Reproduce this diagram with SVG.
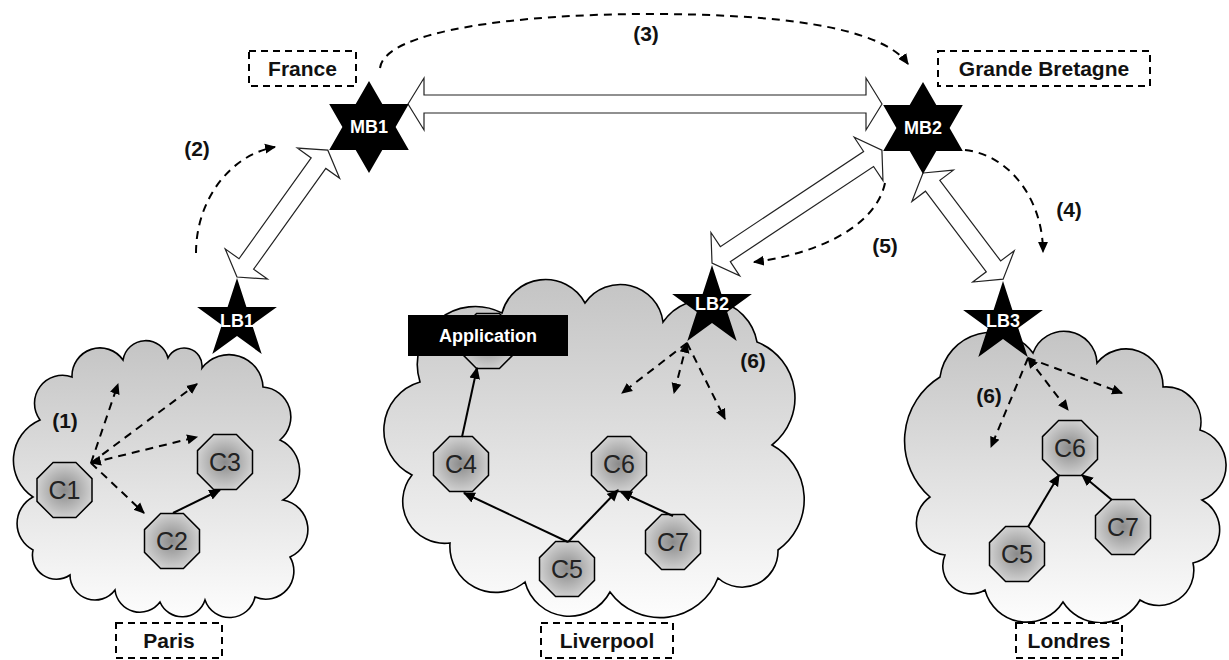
<svg xmlns="http://www.w3.org/2000/svg" xmlns:xlink="http://www.w3.org/1999/xlink" width="1229" height="660" viewBox="0 0 1229 660">
<style>
.cloud{stroke:#000;stroke-width:1.6;fill:url(#cg)}
.oct{stroke:#000;stroke-width:1.5;fill:url(#og)}
.ct{font-family:"Liberation Sans",Arial,sans-serif;font-size:25px;fill:#222;text-anchor:middle}
.lbl{font-family:"Liberation Sans",Arial,sans-serif;font-size:21px;font-weight:bold;fill:#111;text-anchor:middle}
.wt{font-family:"Liberation Sans",Arial,sans-serif;font-size:18px;font-weight:bold;fill:#fff;text-anchor:middle}
.box{fill:#fff;stroke:#000;stroke-width:2;stroke-dasharray:7,5}
.dash{fill:none;stroke:#000;stroke-width:2;stroke-dasharray:8,6}
.solid{fill:none;stroke:#000;stroke-width:2}
.hollow{fill:#fff;stroke:#222;stroke-width:1.2}
</style>
<defs>
<linearGradient id="cg" x1="0" y1="0" x2="0" y2="1">
<stop offset="0" stop-color="#c4c4c4"/>
<stop offset="1" stop-color="#fdfdfd"/>
</linearGradient>
<radialGradient id="og" cx="0.5" cy="0.5" r="0.55">
<stop offset="0" stop-color="#8a8a8a"/>
<stop offset="1" stop-color="#d6d6d6"/>
</radialGradient>
<polygon id="oct" points="-11.4,-27.5 11.4,-27.5 27.5,-11.4 27.5,11.4 11.4,27.5 -11.4,27.5 -27.5,11.4 -27.5,-11.4"/>
<polygon id="hex" points="0,-46 13.3,-23 39.8,-23 26.6,0 39.8,23 13.3,23 0,46 -13.3,23 -39.8,23 -26.6,0 -39.8,-23 -13.3,-23"/>
<polygon id="star5" points="0,-42 9.4,-12.9 39.9,-13 15.2,4.9 24.7,34 0,16 -24.7,34 -15.2,4.9 -39.9,-13 -9.4,-12.9"/>
<marker id="ah" viewBox="0 0 10 10" refX="9" refY="5" markerUnits="userSpaceOnUse" markerWidth="11" markerHeight="11" orient="auto-start-reverse">
<path d="M0,0.5 L10,5 L0,9.5 z" fill="#000"/>
</marker>
<marker id="sh" viewBox="0 0 10 10" refX="9" refY="5" markerUnits="userSpaceOnUse" markerWidth="12" markerHeight="12" orient="auto">
<path d="M0,0.5 L10,5 L0,9.5 z" fill="#000"/>
</marker>
</defs>
<rect width="1229" height="660" fill="#fff"/>

<g id="cloud-paris">
<path class="cloud" d="M33,497 A44,44 0 0 1 40,420 A28,28 0 0 1 72,377 A28,28 0 0 1 123,360 A23,23 0 0 1 168,358 A18,18 0 0 1 202,368 A34,34 0 0 1 263,387 A30,30 0 0 1 280,440 A34,34 0 0 1 283,500 A30,30 0 0 1 290,557 A28,28 0 0 1 255,597 A26,26 0 0 1 205,600 A24,24 0 0 1 160,602 A25,25 0 0 1 115,590 A25,25 0 0 1 70,575 A24,24 0 0 1 33,550 A30,30 0 0 1 33,497 Z"/>
</g>
<g id="cloud-liverpool">
<path class="cloud" d="M412,475 A50,50 0 0 1 420,382 A58,58 0 0 1 502,313 A45,45 0 0 1 585,303 A43,43 0 0 1 663,322 A52,52 0 0 1 757,342 A60,60 0 0 1 772,445 A62,62 0 0 1 778,550 A36,36 0 0 1 718,578 A62,62 0 0 1 610,592 A46,46 0 0 1 525,582 A46,46 0 0 1 450,543 A42,42 0 0 1 412,475 Z"/>
</g>
<g id="cloud-londres">
<path class="cloud" d="M930,497 A75,75 0 0 1 940,377 A52,52 0 0 1 1033,353 A33,33 0 0 1 1097,363 A37,37 0 0 1 1163,387 A35,35 0 0 1 1200,430 A37,37 0 0 1 1202,500 A34,34 0 0 1 1193,563 A35,35 0 0 1 1140,600 A45,45 0 0 1 1063,602 A43,43 0 0 1 985,590 A28,28 0 0 1 945,555 A32,32 0 0 1 930,497 Z"/>
</g>

<g id="label-france"><rect class="box" x="249" y="51" width="107" height="35"/><text class="lbl" x="302.5" y="76">France</text></g>
<g id="label-gb"><rect class="box" x="938" y="51" width="212" height="35"/><text class="lbl" x="1044" y="76">Grande Bretagne</text></g>
<g id="label-paris"><rect class="box" x="116" y="623" width="106" height="35"/><text class="lbl" x="169" y="648">Paris</text></g>
<g id="label-liverpool"><rect class="box" x="541" y="623" width="132" height="35"/><text class="lbl" x="607" y="648">Liverpool</text></g>
<g id="label-londres"><rect class="box" x="1016" y="623" width="106" height="35"/><text class="lbl" x="1069" y="648">Londres</text></g>

<g id="connectors">
<polygon class="hollow" transform="translate(408,104)" points="0,0 16,-26 16,-9 458,-9 458,-26 474,0 458,26 458,9 16,9 16,26"/>
<polygon class="hollow" transform="translate(237,277) rotate(-54.4)" points="0,0 16,-26 16,-9 140,-9 140,-26 156,0 140,26 140,9 16,9 16,26"/>
<polygon class="hollow" transform="translate(712,263) rotate(-33.6)" points="0,0 16,-26 16,-9 188,-9 188,-26 204,0 188,26 188,9 16,9 16,26"/>
<polygon class="hollow" transform="translate(923,173) rotate(52.96)" points="0,0 16,-26 16,-9 117,-9 117,-26 133,0 117,26 117,9 16,9 16,26"/>

<path class="dash" marker-end="url(#ah)" d="M196,253 C196,200 230,155 275,147"/>
<path class="dash" marker-end="url(#ah)" d="M380,68 C385,30 520,14 650,14 C770,14 880,25 908,64"/>
<path class="dash" marker-end="url(#ah)" d="M965,150 C1010,155 1043,200 1043,252"/>
<path class="dash" marker-end="url(#ah)" d="M885,183 C875,230 810,255 754,262"/>

<path class="dash" marker-end="url(#ah)" d="M91,463 L118,384"/>
<path class="dash" marker-end="url(#ah)" d="M91,463 L197,384"/>
<path class="dash" marker-end="url(#ah)" marker-start="url(#ah)" d="M91,463 L197,437"/>
<path class="dash" marker-end="url(#ah)" d="M91,463 L144,513"/>

<path class="dash" marker-end="url(#ah)" d="M687,343 L622,393"/>
<path class="dash" marker-end="url(#ah)" marker-start="url(#ah)" d="M687,343 L674,393"/>
<path class="dash" marker-end="url(#ah)" d="M687,343 L725,419"/>

<path class="dash" marker-end="url(#ah)" d="M1028,358 L991,447"/>
<path class="dash" marker-end="url(#ah)" marker-start="url(#ah)" d="M1028,358 L1068,410"/>
<path class="dash" marker-end="url(#ah)" d="M1028,358 L1122,393"/>
</g>

<g id="node-app-hidden"><use href="#oct" class="oct" x="488" y="341"/></g>
<g id="node-application"><rect x="408" y="315" width="160" height="41" fill="#000"/><text class="wt" x="488" y="342">Application</text></g>

<g id="paris-C1"><use href="#oct" class="oct" x="64.5" y="490"/><text class="ct" x="64.5" y="499">C1</text></g>
<g id="paris-C2"><use href="#oct" class="oct" x="172" y="541"/><text class="ct" x="172" y="550">C2</text></g>
<g id="paris-C3"><use href="#oct" class="oct" x="225" y="462"/><text class="ct" x="225" y="471">C3</text></g>

<g id="liv-C4"><use href="#oct" class="oct" x="461" y="464"/><text class="ct" x="461" y="473">C4</text></g>
<g id="liv-C6"><use href="#oct" class="oct" x="619" y="464"/><text class="ct" x="619" y="473">C6</text></g>
<g id="liv-C5"><use href="#oct" class="oct" x="567" y="569"/><text class="ct" x="567" y="578">C5</text></g>
<g id="liv-C7"><use href="#oct" class="oct" x="673" y="542"/><text class="ct" x="673" y="551">C7</text></g>

<g id="lon-C6"><use href="#oct" class="oct" x="1070" y="448"/><text class="ct" x="1070" y="457">C6</text></g>
<g id="lon-C5"><use href="#oct" class="oct" x="1017" y="554"/><text class="ct" x="1017" y="563">C5</text></g>
<g id="lon-C7"><use href="#oct" class="oct" x="1123" y="527"/><text class="ct" x="1123" y="536">C7</text></g>

<g id="solid-arrows">
<path class="solid" marker-end="url(#sh)" d="M173,513 L220,490"/>
<path class="solid" marker-end="url(#sh)" d="M462,437 L477,368"/>
<path class="solid" marker-end="url(#sh)" d="M568,542 L464,493"/>
<path class="solid" marker-end="url(#sh)" d="M568,542 L618,490"/>
<path class="solid" marker-end="url(#sh)" d="M673,516 L621,492"/>
<path class="solid" marker-end="url(#sh)" d="M1028,527 L1059,475"/>
<path class="solid" marker-end="url(#sh)" d="M1112,500 L1082,475"/>
</g>

<g id="node-MB1"><use href="#hex" x="369" y="127" fill="#000"/><text class="wt" x="369" y="133">MB1</text></g>
<g id="node-MB2"><use href="#hex" x="923" y="128" fill="#000"/><text class="wt" x="923" y="134">MB2</text></g>
<g id="node-LB1"><use href="#star5" x="237" y="320" fill="#000"/><text class="wt" x="237" y="327">LB1</text></g>
<g id="node-LB2"><use href="#star5" x="712" y="307" fill="#000"/><text class="wt" x="712" y="310">LB2</text></g>
<g id="node-LB3"><use href="#star5" x="1003" y="323" fill="#000"/><text class="wt" x="1003" y="327">LB3</text></g>

<g id="step-labels">
<text class="lbl" x="65" y="428">(1)</text>
<text class="lbl" x="197" y="156">(2)</text>
<text class="lbl" x="646" y="41">(3)</text>
<text class="lbl" x="1069" y="217">(4)</text>
<text class="lbl" x="885" y="253">(5)</text>
<text class="lbl" x="753" y="368">(6)</text>
<text class="lbl" x="989" y="403">(6)</text>
</g>
</svg>
